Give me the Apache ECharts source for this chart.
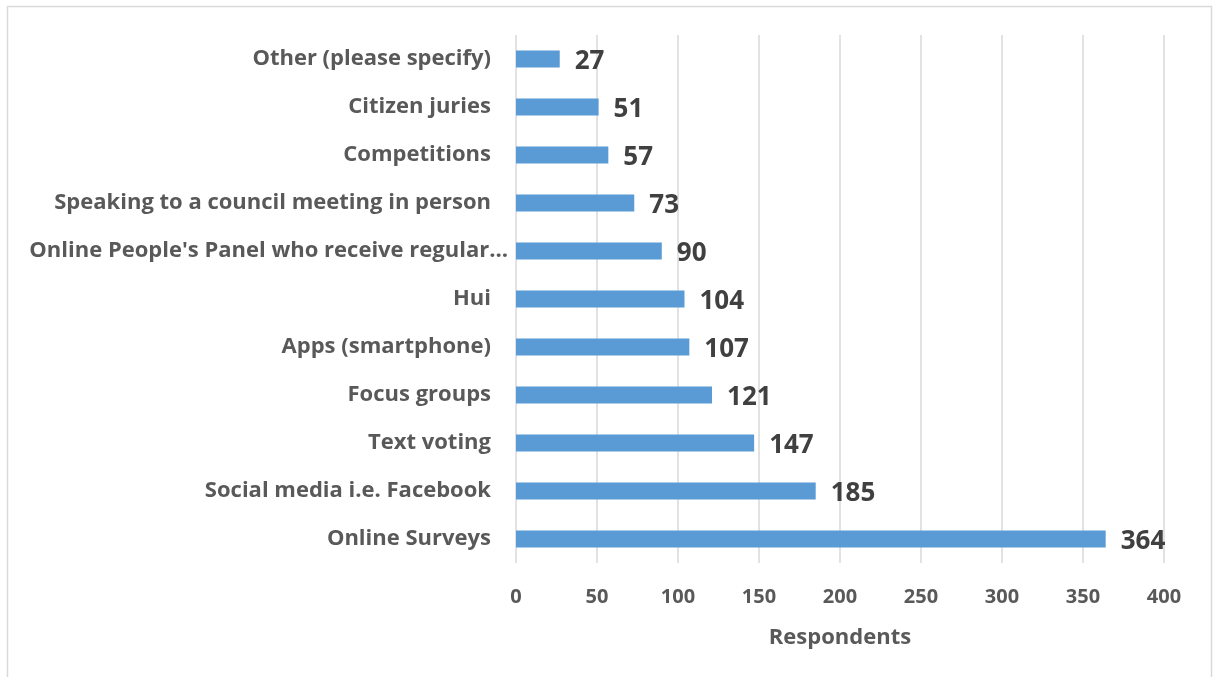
<!DOCTYPE html>
<html>
<head>
<meta charset="utf-8">
<script src="https://cdn.jsdelivr.net/npm/echarts@6/dist/echarts.min.js"></script>
<style>
html,body{margin:0;padding:0;background:#fff;}
#chart{width:1216px;height:677px;}
</style>
</head>
<body>
<div id="chart"></div>
<script>
const categories = [
  "Other (please specify)",
  "Citizen juries",
  "Competitions",
  "Speaking to a council meeting in person",
  "Online People's Panel who receive regular\u2026",
  "Hui",
  "Apps (smartphone)",
  "Focus groups",
  "Text voting",
  "Social media i.e. Facebook",
  "Online Surveys"
];
const respondents = [27, 51, 57, 73, 90, 104, 107, 121, 147, 185, 364];
const xTicks = [0, 50, 100, 150, 200, 250, 300, 350, 400];
const axisTitle = "Respondents";

const FONT = "'Open Sans', 'Noto Sans', sans-serif";
const chart = echarts.init(document.getElementById('chart'), null, {renderer: 'canvas'});
chart.setOption({
  animation: false,
  backgroundColor: '#ffffff',
  graphic: [{
    type: 'rect',
    shape: {x: 7.5, y: 6.5, width: 1204, height: 720},
    style: {fill: 'none', stroke: '#d9d9d9', lineWidth: 1.5},
    silent: true
  }],
  grid: {left: 516, right: 52, top: 35, bottom: 114, containLabel: false},
  xAxis: {
    type: 'value',
    min: xTicks[0],
    max: xTicks[xTicks.length - 1],
    interval: xTicks[1] - xTicks[0],
    axisLine: {show: false},
    axisTick: {show: false},
    splitLine: {show: true, lineStyle: {color: '#d9d9d9', width: 1.5}},
    axisLabel: {color: '#595959', fontFamily: FONT, fontWeight: 'bold', fontSize: 20, margin: 24},
    name: axisTitle,
    nameLocation: 'middle',
    nameGap: 64,
    nameTextStyle: {color: '#595959', fontFamily: FONT, fontWeight: 'bold', fontSize: 22}
  },
  yAxis: {
    type: 'category',
    data: categories,
    inverse: true,
    axisLine: {show: false},
    axisTick: {show: false},
    axisLabel: {
      color: '#595959', fontFamily: FONT, fontWeight: 'bold', fontSize: 22, margin: 25,
      formatter: function (v) {
        return v.endsWith('\u2026') ? '{w|' + v + '}' : v;
      },
      rich: {
        w: {color: '#595959', fontFamily: FONT, fontWeight: 'bold', fontSize: 22, padding: [0, -17, 0, 0]}
      }
    }
  },
  series: [{
    type: 'bar',
    data: respondents,
    barWidth: 17,
    itemStyle: {color: '#5b9bd5'},
    label: {
      show: true,
      position: 'right',
      distance: 15,
      color: '#404040',
      fontFamily: FONT,
      fontWeight: 'bold',
      fontSize: 26,
      offset: [0, 3]
    }
  }]
});
</script>
</body>
</html>
